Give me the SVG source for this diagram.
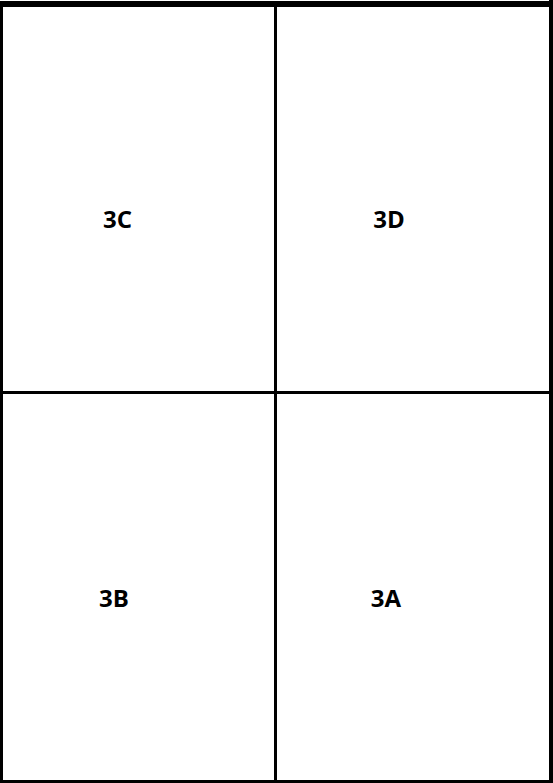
<svg xmlns="http://www.w3.org/2000/svg" width="553" height="783" viewBox="0 0 553 783">
<style>
.cell{fill:#fff;stroke:none}
.ln{stroke:#000;stroke-width:3;fill:none}
.lbl{font-family:"Open Sans","Liberation Sans",sans-serif;font-weight:bold;font-size:24px;fill:#000;text-anchor:middle}
</style>
<rect x="0" y="0" width="553" height="783" fill="#fff"/>
<g id="connectors">
<rect x="1.5" y="4" width="549.5" height="777.5" class="ln" style="stroke-width:3"/>
<line x1="0" y1="4" x2="553" y2="4" class="ln" style="stroke-width:6"/>
<line x1="551" y1="0" x2="551" y2="783" class="ln" style="stroke-width:4"/>
<line x1="275.5" y1="4" x2="275.5" y2="783" class="ln"/>
<line x1="0" y1="392.5" x2="553" y2="392.5" class="ln"/>
</g>
<g id="n3C"><text x="117.5" y="228" class="lbl">3C</text></g>
<g id="n3D"><text x="389" y="228" class="lbl">3D</text></g>
<g id="n3B"><text x="114" y="607" class="lbl">3B</text></g>
<g id="n3A"><text x="386" y="607" class="lbl">3A</text></g>
</svg>
